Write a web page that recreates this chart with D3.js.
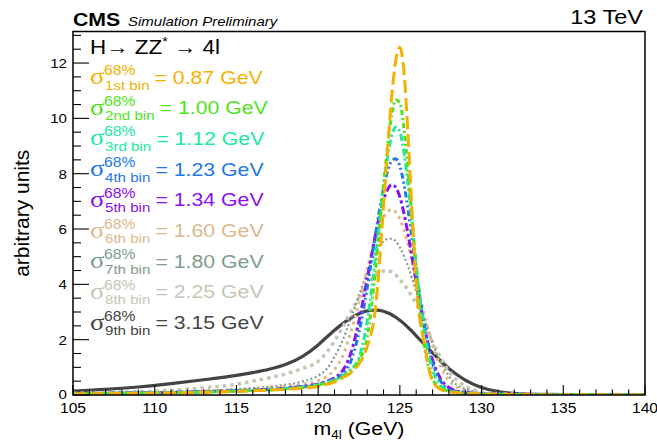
<!DOCTYPE html>
<html>
<head>
<meta charset="utf-8">
<script src="https://cdn.jsdelivr.net/npm/d3@7"></script>
<style>
  html, body { margin: 0; padding: 0; background: #fff; }
  svg { display: block; font-family: "Liberation Sans", Arial, sans-serif; }
</style>
</head>
<body>
<svg id="chart" width="657" height="441"></svg>
<script>
// mass grid (GeV) shared by all curves
const MASS = [105, 107, 109, 111, 113, 115, 116, 117, 118, 119, 120, 120.5, 121, 121.5, 122, 122.5,
              123, 123.5, 124, 124.25, 124.5, 124.75, 125, 125.25, 125.5, 125.75, 126, 126.5, 127,
              127.5, 128, 128.5, 129, 130, 131, 132, 134, 137, 140];

// curve heights, one array per resolution bin
const bin1 = [0.04, 0.05, 0.06, 0.075, 0.10, 0.13, 0.15, 0.175, 0.205, 0.245, 0.31, 0.38, 0.47, 0.62, 0.80, 1.12,
              1.75, 3.1, 6.8, 8.9, 10.8, 12.1, 12.57, 11.7, 9.4, 6.6, 4.0, 1.85, 0.5,
              0.2, 0.11, 0.08, 0.06, 0.04, 0.03, 0.02, 0.012, 0.006, 0.003];
const bin2 = [0.044, 0.053, 0.065, 0.08, 0.105, 0.14, 0.16, 0.185, 0.22, 0.27, 0.36, 0.43, 0.52, 0.65, 0.86, 1.25,
              2.07, 4.46, 7.58, 9.02, 10.11, 10.67, 10.56, 9.65, 8.11, 6.28, 4.47, 1.77, 0.58,
              0.25, 0.13, 0.085, 0.062, 0.04, 0.027, 0.017, 0.008, 0.004, 0.002];
const bin3 = [0.046, 0.056, 0.068, 0.085, 0.11, 0.145, 0.165, 0.19, 0.23, 0.28, 0.37, 0.45, 0.55, 0.70, 0.92, 1.35,
              2.67, 4.95, 7.52, 8.60, 9.36, 9.69, 9.51, 8.77, 7.60, 6.18, 4.72, 2.29, 0.92,
              0.35, 0.16, 0.09, 0.065, 0.04, 0.027, 0.017, 0.008, 0.004, 0.002];
const bin4 = [0.048, 0.058, 0.07, 0.088, 0.115, 0.15, 0.17, 0.195, 0.235, 0.29, 0.38, 0.46, 0.57, 0.76, 1.22, 2.27,
              3.87, 5.77, 7.47, 8.09, 8.46, 8.54, 8.27, 7.63, 6.71, 5.64, 4.51, 2.50, 1.16,
              0.50, 0.20, 0.12, 0.08, 0.045, 0.03, 0.018, 0.008, 0.004, 0.002];
const bin5 = [0.05, 0.06, 0.073, 0.092, 0.12, 0.155, 0.18, 0.21, 0.25, 0.31, 0.40, 0.49, 0.62, 0.88, 1.51, 2.68,
              4.19, 5.78, 7.05, 7.43, 7.6, 7.51, 7.16, 6.57, 5.81, 4.96, 4.08, 2.47, 1.28,
              0.58, 0.27, 0.14, 0.09, 0.05, 0.03, 0.02, 0.008, 0.004, 0.002];
const bin6 = [0.055, 0.066, 0.08, 0.10, 0.135, 0.18, 0.21, 0.25, 0.30, 0.39, 0.52, 0.66, 0.92, 1.41, 2.27, 3.35,
              4.54, 5.63, 6.42, 6.63, 6.7, 6.61, 6.36, 5.96, 5.44, 4.84, 4.19, 2.91, 1.82,
              1.03, 0.52, 0.28, 0.15, 0.07, 0.04, 0.022, 0.01, 0.004, 0.002];
const bin7 = [0.06, 0.075, 0.09, 0.115, 0.155, 0.21, 0.25, 0.30, 0.37, 0.48, 0.70, 0.92, 1.38, 1.98, 2.76, 3.60,
              4.43, 5.12, 5.55, 5.64, 5.65, 5.55, 5.34, 5.03, 4.65, 4.21, 3.73, 2.76, 1.87,
              1.18, 0.68, 0.36, 0.22, 0.08, 0.04, 0.025, 0.01, 0.004, 0.002];
const bin8 = [0.06, 0.09, 0.12, 0.17, 0.26, 0.39, 0.50, 0.62, 0.76, 0.95, 1.22, 1.52, 1.95, 2.45, 3.0, 3.52,
              3.98, 4.32, 4.48, 4.5, 4.45, 4.34, 4.17, 3.99, 3.80, 3.55, 3.30, 2.70, 1.92,
              1.35, 0.86, 0.53, 0.32, 0.12, 0.05, 0.03, 0.01, 0.005, 0.002];
const bin9 = [0.14, 0.20, 0.29, 0.41, 0.55, 0.71, 0.81, 0.93, 1.10, 1.38, 1.81, 2.08, 2.34, 2.58, 2.78, 2.94,
              3.04, 3.07, 3.03, 2.97, 2.90, 2.81, 2.70, 2.58, 2.44, 2.30, 2.14, 1.83, 1.52,
              1.23, 0.96, 0.73, 0.54, 0.27, 0.12, 0.06, 0.02, 0.008, 0.004];

const SERIES = [bin1, bin2, bin3, bin4, bin5, bin6, bin7, bin8, bin9];
const BIN_NAMES = ["1st bin", "2nd bin", "3rd bin", "4th bin", "5th bin", "6th bin", "7th bin", "8th bin", "9th bin"];
const SIGMA_68 = ["0.87", "1.00", "1.12", "1.23", "1.34", "1.60", "1.80", "2.25", "3.15"];

const X_TICKS = [105, 110, 115, 120, 125, 130, 135, 140];
const Y_TICKS = [0, 2, 4, 6, 8, 10, 12];

// line styles per bin
const COLORS = ["#f5b000", "#4fe31a", "#22e8a0", "#1f78e6", "#8a10f0", "#dcb98e", "#7d9d8c", "#c6c6b4", "#444444"];
const DASHES = ["13,5", "5,3,2,3", "7,3,2,3", "6,3,2,3,2,3", "8,3,3,3", "3,4", "2,2.5", "3.5,4", null];
const WIDTHS = [3, 3, 3, 3, 3, 3, 2.2, 3.5, 3.2];

const SX = 1.12;   // the original canvas is stretched sideways
const plot = { left: 73, right: 645, top: 31.5, bottom: 395 };

const svg = d3.select("#chart");
const x = d3.scaleLinear().domain([105, 140]).range([plot.left, plot.right]);
const y = d3.scaleLinear().domain([0, 13.14]).range([plot.bottom, plot.top]);

function label(parent, px, py, str, size, opts = {}) {
    const g = parent.append("g").attr("transform", `translate(${px},${py}) scale(${SX},1)`);
    return g.append("text")
        .attr("font-size", size)
        .attr("text-anchor", opts.anchor || "start")
        .attr("font-weight", opts.weight || null)
        .attr("font-style", opts.style || null)
        .attr("font-family", opts.family || null)
        .attr("fill", opts.color || "#000")
        .text(str);
}

// ── Curves ─────────────────────────────────────────────────────────────────
svg.append("clipPath").attr("id", "clip")
    .append("rect").attr("x", plot.left).attr("y", plot.top)
    .attr("width", plot.right - plot.left).attr("height", plot.bottom - plot.top);

const line = d3.line()
    .x((d, i) => x(MASS[i]))
    .y(d => y(d))
    .curve(d3.curveMonotoneX);

const curves = svg.append("g").attr("clip-path", "url(#clip)");
for (let i = SERIES.length - 1; i >= 0; i--) {
    curves.append("path")
        .attr("d", line(SERIES[i]))
        .attr("fill", "none")
        .attr("stroke", COLORS[i])
        .attr("stroke-width", WIDTHS[i])
        .attr("stroke-dasharray", DASHES[i]);
}

// ── Axes ───────────────────────────────────────────────────────────────────
const axes = svg.append("g").attr("stroke", "#000");
axes.append("rect")
    .attr("x", plot.left).attr("y", plot.top)
    .attr("width", plot.right - plot.left).attr("height", plot.bottom - plot.top)
    .attr("fill", "none").attr("stroke-width", 1.5);

// y ticks point into the frame
d3.range(0, 13.01, 0.5).forEach(v => {
    const major = v % 2 === 0;
    axes.append("line")
        .attr("x1", plot.left).attr("x2", plot.left + (major ? 16 : 8))
        .attr("y1", y(v)).attr("y2", y(v))
        .attr("stroke-width", 1.1);
});
d3.range(105, 140.01, 1).forEach(v => {
    const major = v % 5 === 0;
    axes.append("line")
        .attr("x1", x(v)).attr("x2", x(v))
        .attr("y1", plot.bottom).attr("y2", plot.bottom - (major ? 10 : 5.5))
        .attr("stroke-width", 1.1);
});

Y_TICKS.forEach(v => label(svg, 67, y(v) + (v === 0 ? 3.5 : 5), v, 13.5, { anchor: "end" }));
X_TICKS.forEach(v => label(svg, x(v), 413, v, 14, { anchor: "middle" }));

// axis titles
const xt = label(svg, (plot.left + plot.right) / 2, 434.5, "m", 19, { anchor: "middle" });
xt.append("tspan").attr("font-size", 12).attr("dy", 4).text("4l");
xt.append("tspan").attr("dy", -4).text(" (GeV)");

svg.append("text")
    .attr("transform", `translate(29,${(plot.top + plot.bottom) / 2}) rotate(-90)`)
    .attr("text-anchor", "middle")
    .attr("font-size", 21)
    .text("arbitrary units");

// ── Header ─────────────────────────────────────────────────────────────────
label(svg, 73, 25.5, "CMS", 19, { weight: "bold" });
label(svg, 128, 26, "Simulation Preliminary", 13.4, { style: "italic" });
label(svg, 643, 23.5, "13 TeV", 21, { anchor: "end" });

const proc = label(svg, 90, 54, "H→ ZZ", 20);
proc.append("tspan").attr("font-size", 13).attr("dy", -8).text("*");
proc.append("tspan").attr("dy", 8).text(" → 4l");

// ── Legend ─────────────────────────────────────────────────────────────────
SIGMA_68.forEach((val, i) => {
    const cy = 77 + i * 30.7;
    const col = COLORS[i];
    label(svg, 90, cy + 7, "σ", 24, { family: "Liberation Serif, serif", color: col });
    label(svg, 104, cy - 2, "68%", 14, { color: col });
    const sub = label(svg, 105, cy + 12.5, BIN_NAMES[i], 13.5, { color: col });
    const w = sub.node().getComputedTextLength() * SX;
    label(svg, 105 + w + 5, cy + 6.5, "= " + val + " GeV", 19, { color: col });
});
</script>
</body>
</html>
